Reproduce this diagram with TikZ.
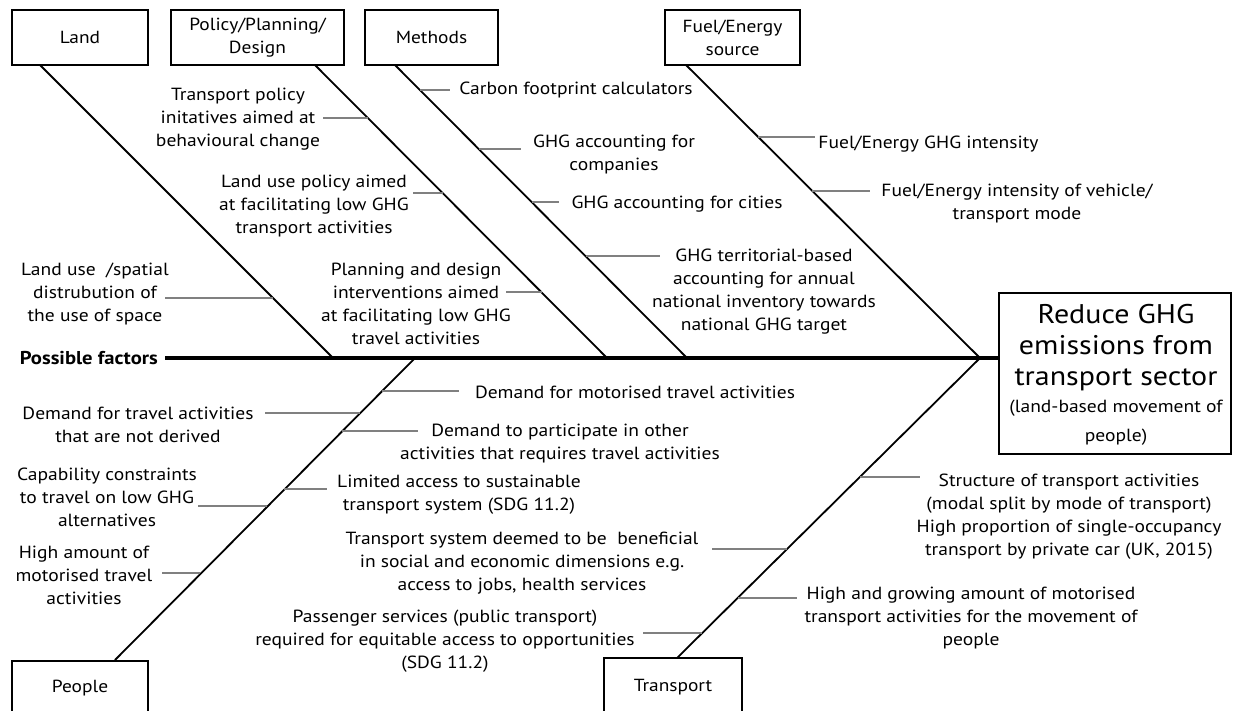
\documentclass[tikz,border=0pt]{standalone}
\usepackage{fontspec}
\setmainfont{PT Sans}[FakeStretch=1.11]
\begin{document}
\begin{tikzpicture}[x=1pt,y=-1pt,
  catbox/.style={draw, line width=1.8pt, minimum width=136pt, minimum height=55pt,
                 inner sep=0pt, align=center, font=\fontsize{17.5}{23}\selectfont},
  lbl/.style={inner sep=0pt, align=center, font=\fontsize{17.6}{23}\selectfont},
  bone/.style={line width=1.8pt},
  twig/.style={draw=black!50, line width=1.4pt},
  spine/.style={line width=3.5pt}]
\useasboundingbox (0,0) rectangle (1236,710);

% category boxes
\node[catbox] (land)   at (80,37.5)    {Land};
\node[catbox, minimum width=173pt] (policy) at (257.5,37.5) {Policy/Planning/\\Design};
\node[catbox, minimum width=133pt] (methods) at (431.5,37.5) {Methods};
\node[catbox, minimum width=135pt] (fuel)   at (732.5,37.5) {Fuel/Energy\\source};
\node[catbox] (people) at (80,688.5) {People};
\node[catbox, minimum width=138pt, minimum height=58pt] (transport) at (673,687) {Transport};

% effect box
\node[draw, line width=1.8pt, minimum width=232pt, minimum height=161pt, inner sep=0pt] (head) at (1115,373.5) {};
\node[inner sep=0pt, align=center, font=\fontsize{27}{31}\selectfont] (headt) at (1116,348) {Reduce GHG\\emissions from\\transport sector};
\node[inner sep=0pt, align=center, font=\fontsize{17.6}{29}\selectfont] (heads) at (1116,423) {(land-based movement of\\people)};

% spine
\node[inner sep=0pt, font=\fontsize{18.6}{20}\selectfont\bfseries, anchor=east] (pf) at (158,358) {Possible factors};
\coordinate (hp) at (980,358);
\draw[spine] ([xshift=7pt]pf.east) -- (hp -| head.west);

% bone feet and joins
\coordinate (landfoot) at (40,65);    \coordinate (landjoin) at (333,358);
\coordinate (polfoot)  at (315,65);   \coordinate (poljoin)  at (607,358);
\coordinate (metfoot)  at (395,65);   \coordinate (metjoin)  at (687,358);
\coordinate (fuelfoot) at (686,65);
\coordinate (pplfoot)  at (115,660);  \coordinate (ppljoin)  at (415,358);
\coordinate (trfoot)   at (677,658);

\draw[bone] (landfoot) -- (landjoin);
\draw[bone] (polfoot) -- (poljoin);
\draw[bone] (metfoot) -- (metjoin);
\draw[bone] (fuelfoot) -- (hp);
\draw[bone] (pplfoot) -- (ppljoin);
\draw[bone] (trfoot) -- (hp);

% factor labels
\node[lbl] (l1) at (95,293.5) {Land use\ \ /spatial\\distrubution of\\the use of space};
\node[lbl] (p1) at (238,119) {Transport policy\\initatives aimed at\\behavioural change};
\node[lbl] (p2) at (314,206) {Land use policy aimed\\at facilitating low GHG\\transport activities};
\node[lbl] (p3) at (416,304) {Planning and design\\interventions aimed\\at facilitating low GHG\\travel activities};
\node[lbl] (m1) at (576,90) {Carbon footprint calculators};
\node[lbl] (m2) at (614,154) {GHG accounting for\\companies};
\node[lbl] (m3) at (677,204) {GHG accounting for cities};
\node[lbl] (m4) at (764,291.5) {GHG territorial-based\\accounting for annual\\national inventory towards\\national GHG target};
\node[lbl] (f1) at (928.5,144) {Fuel/Energy GHG intensity};
\node[lbl] (f2) at (1017,203.5) {Fuel/Energy intensity of vehicle/\\transport mode};
\node[lbl] (d1) at (635,392) {Demand for motorised travel activities};
\node[lbl] (d2) at (138,424.5) {Demand for travel activities\\that are not derived};
\node[lbl] (d3) at (560,443.5) {Demand to participate in other\\activities that requires travel activities};
\node[lbl] (d4) at (107,497) {Capability constraints\\to travel on low GHG\\alternatives};
\node[lbl] (d5) at (459,494.5) {Limited access to sustainable\\transport system (SDG 11.2)};
\node[lbl] (d6) at (84,575) {High amount of\\motorised travel\\activities};
\node[lbl] (t1) at (1069,517) {Structure of transport activities\\(modal split by mode of transport)\\High proportion of single-occupancy\\transport by private car (UK, 2015)};
\node[lbl] (t2) at (522,563) {Transport system deemed to be\ \ beneficial\\in social and economic dimensions e.g.\\access to jobs, health services};
\node[lbl] (t3) at (971,618.5) {High and growing amount of motorised\\transport activities for the movement of\\people};
\node[lbl] (t4) at (445,641.5) {Passenger services (public transport)\\required for equitable access to opportunities\\(SDG 11.2)};

% twig end points
\coordinate (l1a) at (165,298); \coordinate (l1b) at (273,298);
\coordinate (p1a) at (323,118); \coordinate (p1b) at (368,118);
\coordinate (p2a) at (413,193); \coordinate (p2b) at (443,193);
\coordinate (p3a) at (506,292); \coordinate (p3b) at (542,292);
\coordinate (m1a) at (420,90);  \coordinate (m1b) at (450,90);
\coordinate (m2a) at (479,149); \coordinate (m2b) at (521,149);
\coordinate (m3a) at (532,202); \coordinate (m3b) at (559,202);
\coordinate (m4a) at (586,256); \coordinate (m4b) at (660,256);
\coordinate (f1a) at (758,137); \coordinate (f1b) at (815,137);
\coordinate (f2a) at (812,191); \coordinate (f2b) at (870,191);
\coordinate (d1a) at (382,391); \coordinate (d1b) at (459,391);
\coordinate (d2a) at (265,413); \coordinate (d2b) at (360,413);
\coordinate (d3a) at (342,431); \coordinate (d3b) at (418,431);
\coordinate (d4a) at (198,506); \coordinate (d4b) at (267,506);
\coordinate (d5a) at (284,489); \coordinate (d5b) at (327,489);
\coordinate (d6a) at (162,573); \coordinate (d6b) at (200,573);
\coordinate (t1a) at (860,477); \coordinate (t1b) at (920,477);
\coordinate (t2a) at (712,549); \coordinate (t2b) at (787,549);
\coordinate (t3a) at (738,598); \coordinate (t3b) at (797,598);
\coordinate (t4a) at (643,633); \coordinate (t4b) at (702,633);

\foreach \t in {l1,p1,p2,p3,m1,m2,m3,m4,f1,f2,d1,d2,d3,d4,d5,d6,t1,t2,t3,t4}
  \draw[twig] (\t a) -- (\t b);
\end{tikzpicture}
\end{document}
